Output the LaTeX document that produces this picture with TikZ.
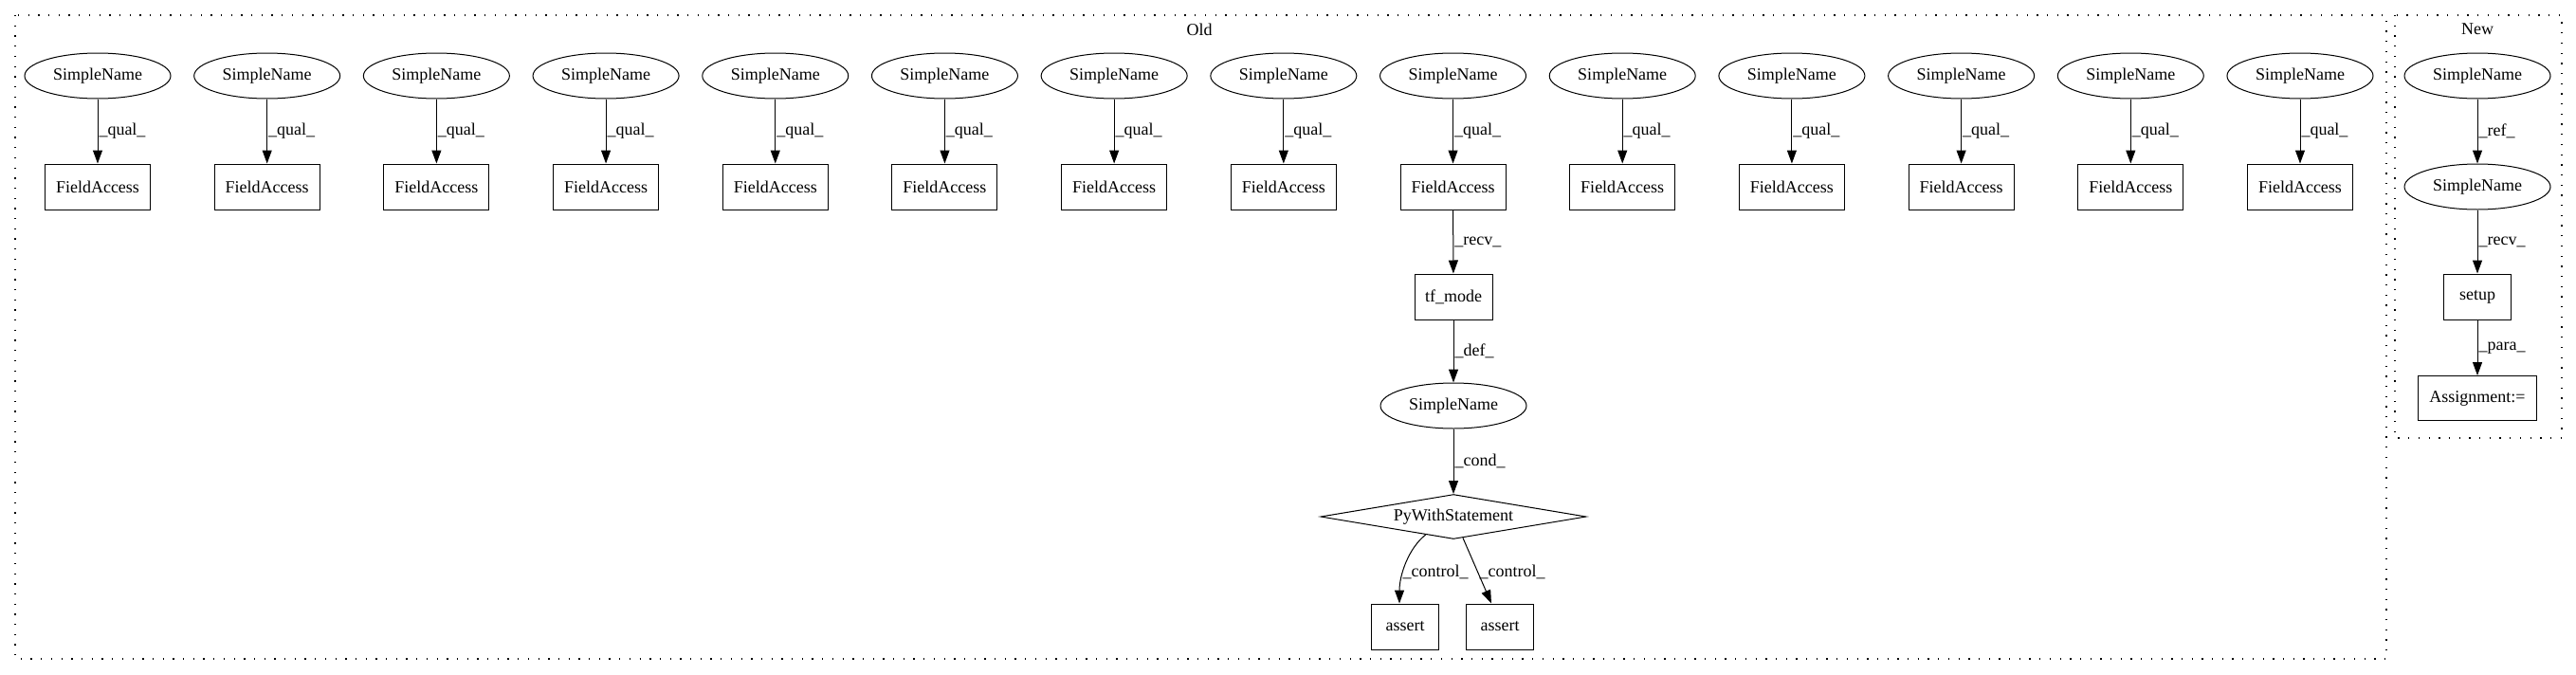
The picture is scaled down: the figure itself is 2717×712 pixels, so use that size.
\documentclass[tikz,border=0pt]{standalone}
\usepackage{fontspec}
\setmainfont{Liberation Serif}
\usetikzlibrary{shapes.geometric,arrows.meta}
\begin{document}
\begin{tikzpicture}[x=1pt,y=-1pt,
  every node/.style={font=\fontsize{18}{20}\selectfont, inner sep=0pt},
  sname/.style={draw, ellipse, line width=1pt, minimum width=154pt, minimum height=48pt},
  fbox/.style={draw, rectangle, line width=1pt, minimum width=111pt, minimum height=48pt},
  sbox/.style={draw, rectangle, line width=1pt, minimum height=48pt},
  dmd/.style={draw, diamond, aspect=6, line width=1pt, minimum width=280pt, minimum height=47pt},
  edge/.style={line width=1pt, -{Triangle[length=14pt,width=10pt]}},
  elabel/.style={anchor=west, inner sep=1pt},
  cluster/.style={draw, line width=1.3pt, dash pattern=on 1.3pt off 9.4pt}
]
\useasboundingbox (0,0) rectangle (2717,712);
% clusters
\draw[cluster] (16,16) rectangle (2517,695);
\draw[cluster] (2526,16) rectangle (2702,462);
\node (oldlbl) at (1265,31) {Old};
\node (newlbl) at (2613,31) {New};
% Old: 14 columns
\foreach \i in {1,...,14} {
  \pgfmathsetmacro{\cx}{103+178.69*(\i-1)}
  \node[sname] (s\i) at (\cx,80) {SimpleName};
  \node[fbox] (f\i) at (\cx,197) {FieldAccess};
  \draw[edge] (s\i) -- node[elabel] {\_qual\_} (f\i);
}
\node[sbox, minimum width=82pt] (tf) at (1533,313) {tf\_mode};
\node[sname] (sc) at (1533,428) {SimpleName};
\node[dmd] (pws) at (1533,545) {PyWithStatement};
\node[sbox, minimum width=71pt] (a1) at (1482,661) {assert};
\node[sbox, minimum width=71pt] (a2) at (1582,661) {assert};
\draw[edge] (f9) -- node[elabel] {\_recv\_} (tf);
\draw[edge] (tf) -- node[elabel] {\_def\_} (sc);
\draw[edge] (sc) -- node[elabel] {\_cond\_} (pws);
\draw[edge] (pws.213) .. controls +(-18,14) and +(0,-30) .. ([xshift=-6pt]a1.north);
\node (cl1) at (1514,603) {\_control\_};
\draw[edge] (pws.-66) -- ([xshift=-9pt]a2.north);
\node (cl2) at (1595,603) {\_control\_};
% New
\node[sname] (n1) at (2613,80) {SimpleName};
\node[sname] (n2) at (2613,197) {SimpleName};
\node[sbox, minimum width=71pt] (setup) at (2613,313) {setup};
\node[sbox, minimum width=125pt, minimum height=47pt] (asg) at (2613,420) {Assignment:=};
\draw[edge] (n1) -- node[elabel] {\_ref\_} (n2);
\draw[edge] (n2) -- node[elabel] {\_recv\_} (setup);
\draw[edge] (setup) -- node[elabel] {\_para\_} (asg);
\end{tikzpicture}
\end{document}
